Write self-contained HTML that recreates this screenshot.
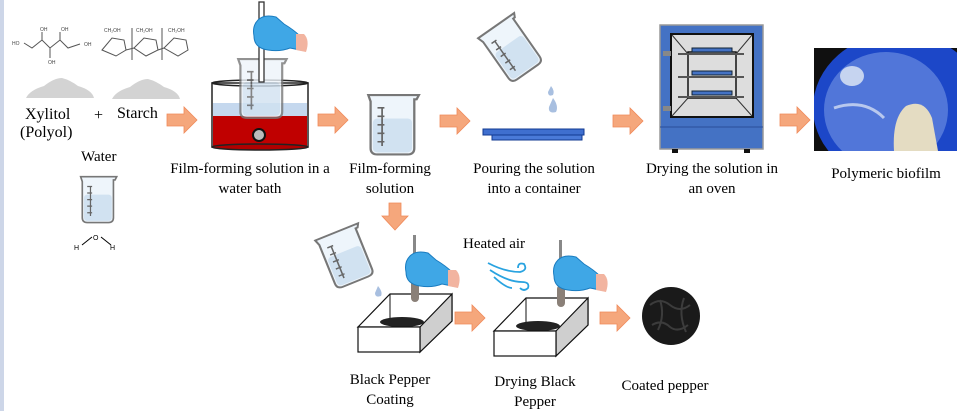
<!DOCTYPE html>
<html><head><meta charset="utf-8"><style>
html,body{margin:0;padding:0;background:#fff}
body{width:957px;height:411px;position:relative;overflow:hidden;font-family:"Liberation Serif",serif;color:#000}
.t{position:absolute;font-size:15px;text-align:center;white-space:nowrap;line-height:20px}
</style></head><body>
<div style="position:absolute;left:0;top:0;width:4px;height:411px;background:#cdd6e8"></div>
<svg width="957" height="411" style="position:absolute;left:0;top:0">
<defs>
<g id="arr"><polygon points="0,7 17,7 17,0 30,13 17,26 17,19 0,19" fill="#f5a77c" stroke="#f08a5a" stroke-width="0.8"/></g>
<g id="beak">
<path d="M2,2 L46,2 L44,6 L42,6 L42,52 Q42,58 36,58 L10,58 Q4,58 4,52 L4,8 Z" fill="#eef5fb" stroke="#777" stroke-width="2"/>
<rect x="6" y="24" width="34" height="32" rx="4" fill="#c9ddef" opacity="0.8"/>
<path d="M10,14 h6 M10,22 h6 M10,30 h6 M10,38 h6 M10,46 h6 M14,14 v36" stroke="#666" stroke-width="1.5"/>
</g>
<g id="glove">
<path d="M8,8 Q14,2 26,5 L34,12 Q44,18 50,24 L50,38 L40,36 Q30,40 18,38 Q4,36 4,24 Q2,14 8,8Z" fill="#3fa7e6" stroke="#1a7cc0"/>
<path d="M46,22 L54,22 Q60,28 56,40 L46,38Z" fill="#f2b4a0"/>
</g>
<g id="powder"><path d="M-34,10 Q-30,2 -16,-2 Q-6,-10 2,-10 Q10,-8 18,-2 Q32,2 34,10 Z" fill="#d3d3d3"/></g>
</defs>
<!-- xylitol structure -->
<g stroke="#555" stroke-width="1" fill="none">
<path d="M24,43 L32,48 L42,40 L50,48 L60,40 L68,48 L80,44"/>
<path d="M42,40 V32 M60,40 V32 M50,48 V58"/>
</g>
<g font-family="Liberation Sans" font-size="5" fill="#444">
<text x="12" y="45">HO</text><text x="40" y="31">OH</text><text x="61" y="31">OH</text><text x="48" y="64">OH</text><text x="84" y="46">OH</text>
<text x="104" y="32">CH₂OH</text><text x="136" y="32">CH₂OH</text><text x="168" y="32">CH₂OH</text>
</g>
<g stroke="#555" stroke-width="1" fill="none">
<path d="M102,50 L112,38 L124,40 L126,50 L116,56 Z M134,48 L144,38 L156,40 L158,50 L146,56 Z M164,48 L174,38 L186,40 L188,50 L178,56 Z M126,50 L134,48 M158,50 L164,48"/>
<path d="M132,28 V60 M162,28 V60"/>
</g>
<use href="#powder" x="60" y="88"/>
<use href="#powder" x="146" y="89"/>
<g transform="translate(79,175) scale(0.82)"><use href="#beak"/></g>
<g font-family="Liberation Sans" font-size="7" fill="#000"><text x="74" y="250">H</text><text x="93" y="240">O</text><text x="110" y="250">H</text></g>
<path d="M82,245 L92,237 M101,237 L111,245" stroke="#000" stroke-width="1"/>
<use href="#arr" x="167" y="107"/>
<!-- water bath -->
<rect x="212" y="83" width="96" height="64" fill="#fff" stroke="#222" stroke-width="1.5"/>
<rect x="213" y="103" width="94" height="13" fill="#c5d8ee"/>
<rect x="213" y="116" width="94" height="31" fill="#c00000"/>
<ellipse cx="260" cy="83" rx="48" ry="3" fill="none" stroke="#222" stroke-width="1.5"/>
<ellipse cx="260" cy="147" rx="48" ry="3" fill="#b00000" stroke="#222" stroke-width="1.5"/>
<g transform="translate(236,57) scale(1.1,1.05)" opacity="0.8"><use href="#beak"/></g>
<circle cx="259" cy="135" r="6" fill="#bbb" stroke="#111" stroke-width="2"/>
<rect x="259" y="2" width="5" height="80" fill="#fff" stroke="#333" stroke-width="1.3"/>
<g transform="translate(250,12)"><use href="#glove"/></g>
<use href="#arr" x="318" y="107"/>
<g transform="translate(366,93) scale(1.15,1.06)"><use href="#beak"/></g>
<polygon points="389,203 401,203 401,216 408,216 395,230 382,216 389,216" fill="#f5a77c" stroke="#f08a5a" stroke-width="0.8"/>
<use href="#arr" x="440" y="108"/>
<!-- pouring -->
<g transform="translate(488,18) rotate(-35 25 30)"><use href="#beak"/></g>
<path d="M551,86 q4,5 2,9 q-5,2 -5,-3z M553,98 q6,8 3,14 q-8,2 -7,-5z" fill="#a8bfe0"/>
<rect x="483" y="129" width="101" height="6" fill="#3f6fcf" stroke="#123a90"/>
<rect x="492" y="135" width="90" height="5" fill="#4a7ad8" stroke="#123a90"/>
<use href="#arr" x="613" y="108"/>
<!-- oven -->
<rect x="660" y="25" width="103" height="124" fill="#4472c4" stroke="#999" stroke-width="1.5"/>
<rect x="671" y="34" width="82" height="83" fill="#ddd" stroke="#111" stroke-width="2"/>
<path d="M672,35 L688,54 M752,35 L736,54 M672,116 L688,98 M752,116 L736,98" stroke="#333"/>
<rect x="688" y="52" width="48" height="46" fill="none" stroke="#111" stroke-width="1.5"/>
<g fill="#4472c4" stroke="#123"><rect x="692" y="48" width="40" height="4"/><rect x="692" y="71" width="40" height="4"/><rect x="692" y="91" width="40" height="4"/></g>
<g stroke="#555" stroke-width="2"><path d="M678,54 h66 M678,77 h66 M678,97 h66"/></g>
<rect x="663" y="51" width="8" height="5" fill="#888"/><rect x="663" y="106" width="8" height="5" fill="#888"/>
<path d="M660,127 h103" stroke="#2a4f9a"/>
<rect x="672" y="149" width="6" height="4" fill="#111"/><rect x="744" y="149" width="6" height="4" fill="#111"/>
<use href="#arr" x="780" y="107"/>
<!-- photo -->
<svg x="814" y="48" width="143" height="103">
<rect width="143" height="103" fill="#101010"/>
<ellipse cx="85" cy="60" rx="86" ry="75" fill="#1c47c8"/>
<ellipse cx="72" cy="62" rx="62" ry="58" fill="#5a7fdc" opacity="0.85"/>
<path d="M80,103 Q78,70 92,58 Q110,50 118,70 L124,103Z" fill="#e4dcc2"/>
<ellipse cx="38" cy="28" rx="12" ry="10" fill="#c6d4f0"/>
<path d="M20,60 Q50,50 70,70" stroke="#b8c8ee" stroke-width="3" fill="none"/>
</svg>
<!-- bottom -->
<g transform="translate(322,228) rotate(-22 25 30) scale(1.05,0.95)"><use href="#beak"/></g>
<path d="M378,286 q5,6 3,10 q-6,2 -6,-3z" fill="#a8bfe0"/>
<g id="box1">
<path d="M358,327 L390,294 L452,294 L452,321 L420,352 L420,327Z" fill="#fff" stroke="#111" stroke-width="1.2"/>
<path d="M420,327 L452,294 L452,321 L420,352Z" fill="#cfcfcf" stroke="#111" stroke-width="1.2"/>
<path d="M390,294 V318" stroke="#111"/>
<ellipse cx="402" cy="322" rx="22" ry="5" fill="#222"/>
<rect x="358" y="327" width="62" height="25" fill="#fff" stroke="#111" stroke-width="1.2"/>
</g>
<rect x="411" y="280" width="8" height="22" rx="4" fill="#8a8078"/>
<rect x="413" y="235" width="3" height="40" fill="#888"/>
<g transform="translate(402,248)"><use href="#glove"/></g>
<use href="#arr" x="455" y="305"/>
<use href="#box1" x="136" y="4"/>
<rect x="557" y="285" width="8" height="22" rx="4" fill="#8a8078"/>
<rect x="559" y="240" width="3" height="40" fill="#888"/>
<g transform="translate(550,252)"><use href="#glove"/></g>
<g stroke="#29a3e0" stroke-width="1.8" fill="none">
<path d="M488,263 Q505,272 520,272 q8,-2 4,-8 q-6,-2 -6,4"/>
<path d="M490,270 Q508,282 522,282 q8,0 6,6 q-4,4 -8,0"/>
<path d="M494,277 Q506,288 512,288"/>
</g>
<use href="#arr" x="600" y="305"/>
<circle cx="671" cy="316" r="29" fill="#1a1a1a"/>
<path d="M650,305 q10,-8 20,0 q10,8 20,0 M652,325 q10,-6 18,2 q8,6 18,-2 M660,300 q5,15 -2,30 M684,298 q-6,16 2,34" stroke="#3c3c3c" stroke-width="2" fill="none"/>
</svg>
<div class="t" style="left:25px;top:105px;font-size:16px">Xylitol</div>
<div class="t" style="left:20px;top:123px;font-size:16px">(Polyol)</div>
<div class="t" style="left:94px;top:106px;font-size:16px">+</div>
<div class="t" style="left:117px;top:104px;font-size:16px">Starch</div>
<div class="t" style="left:81px;top:147px">Water</div>
<div class="t" style="left:160px;top:159px;width:180px">Film-forming solution in a<br>water bath</div>
<div class="t" style="left:340px;top:159px;width:100px">Film-forming<br>solution</div>
<div class="t" style="left:464px;top:159px;width:140px">Pouring the solution<br>into a container</div>
<div class="t" style="left:632px;top:159px;width:160px">Drying the solution in<br>an oven</div>
<div class="t" style="left:816px;top:164px;width:140px">Polymeric biofilm</div>
<div class="t" style="left:463px;top:234px">Heated air</div>
<div class="t" style="left:330px;top:370px;width:120px">Black Pepper<br>Coating</div>
<div class="t" style="left:475px;top:372px;width:120px">Drying Black<br>Pepper</div>
<div class="t" style="left:610px;top:376px;width:110px">Coated pepper</div>
</body></html>
